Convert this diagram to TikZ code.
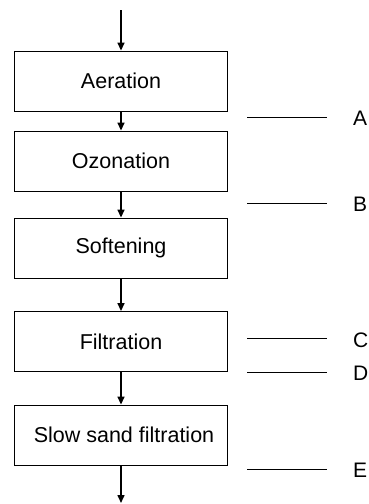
\documentclass[tikz,border=0pt]{standalone}
\usepackage{fontspec}
\setmainfont{Liberation Sans}
\usetikzlibrary{arrows.meta, positioning}

\begin{document}
\begin{tikzpicture}[x=1pt, y=-1pt,
    stage/.style={rectangle, draw, line width=0.9pt, minimum width=213pt,
                  minimum height=60pt, inner sep=0pt, font=\fontsize{21.5}{25}\selectfont},
    flow/.style={-{Triangle[length=8pt, width=7pt]}, line width=1.5pt},
    tag/.style={anchor=west, inner sep=0pt, font=\fontsize{21}{25}\selectfont},
    tick/.style={line width=0.9pt, shorten >=26pt}]
    \useasboundingbox (0,0) rectangle (369,504);

    % Treatment stages
    \node[stage] (aeration)   at (121, 81)  {Aeration};
    \node[stage] (ozonation)  at (121, 161) {Ozonation};
    \node[stage] (softening)  at (121, 248) {Softening};
    \node[stage] (filtration) at (121, 341.5) {Filtration};
    \node[stage] (slowsand)   at (121, 435) {\hspace{6pt}Slow sand filtration};

    % Inlet and outlet
    \coordinate (inlet)  at (121, 10);
    \coordinate (outlet) at (121, 503);

    % Arrows
    \draw[flow] (inlet) -- (aeration);
    \draw[flow] (aeration) -- (ozonation);
    \draw[flow] (ozonation) -- (softening);
    \draw[flow] (softening) -- (filtration);
    \draw[flow] (filtration) -- (slowsand);
    \draw[flow] (slowsand) -- (outlet);

    % Sampling points
    \node[tag] (labA) at (353, 118) {A};
    \node[tag] (labB) at (353, 204) {B};
    \node[tag] (labC) at (353, 340) {C};
    \node[tag] (labD) at (353, 373) {D};
    \node[tag] (labE) at (353, 470) {E};

    \coordinate (tA) at (247, 117);
    \coordinate (tB) at (247, 203);
    \coordinate (tC) at (247, 338.5);
    \coordinate (tD) at (247, 372);
    \coordinate (tE) at (247, 469);

    \draw[tick] (tA) -- (tA -| labA.west);
    \draw[tick] (tB) -- (tB -| labB.west);
    \draw[tick] (tC) -- (tC -| labC.west);
    \draw[tick] (tD) -- (tD -| labD.west);
    \draw[tick] (tE) -- (tE -| labE.west);
\end{tikzpicture}
\end{document}
